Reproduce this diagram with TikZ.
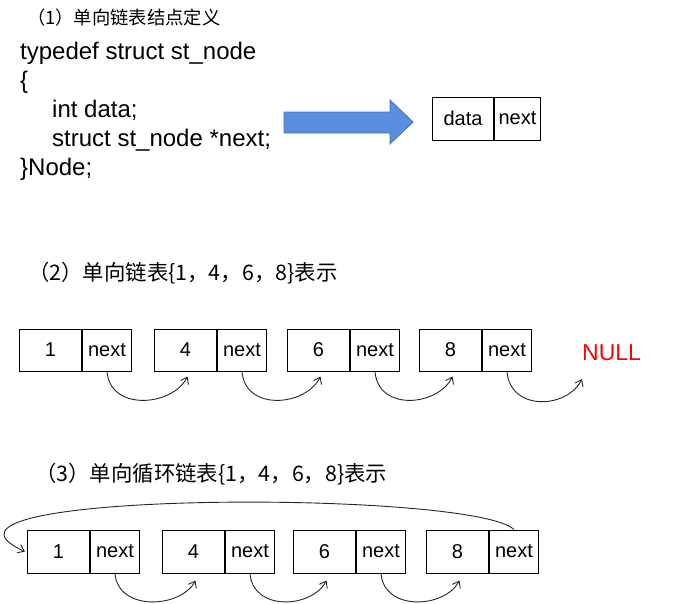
\documentclass[tikz,border=0pt]{standalone}
\usepackage{fontspec}
\setmainfont{Liberation Sans}
\newfontfamily\cjk{Noto Sans CJK SC}
\usetikzlibrary{arrows.meta,calc}
\definecolor{arrowfill}{RGB}{91,142,222}
\definecolor{arrowline}{RGB}{65,113,196}
\begin{document}
\begin{tikzpicture}[x=1pt,y=-1pt,
  cell/.style={draw=black, line width=1pt, minimum height=42pt, inner sep=0pt,
    font=\fontsize{20}{24}\selectfont, anchor=west},
  datacell/.style={cell, minimum width=62pt},
  nextcell/.style={cell, minimum width=49pt},
  link/.style={draw=black!85, line width=0.9pt, -{Straight Barb[length=6pt,width=9pt]}},
  titletext/.style={anchor=base west, inner sep=0pt, font=\cjk\fontsize{21.4}{25}\selectfont},
  codetext/.style={anchor=base west, inner sep=0pt, font=\fontsize{24}{29}\selectfont}
]
\useasboundingbox (0,0) rectangle (679,603);

% (1)
\node[titletext, font=\cjk\fontsize{18.3}{22}\selectfont] (t1) at (27,24) {（1）单向链表结点定义};
\node[codetext] (c1) at (20,59) {typedef struct st\_node};
\node[codetext] (c2) at (20,88) {\{};
\node[codetext] (c3) at (52,117) {int data;};
\node[codetext] (c4) at (52,146) {struct st\_node *next;};
\node[codetext] (c5) at (20,175) {\}Node;};

\draw[fill=arrowfill, draw=arrowline, line width=0.8pt]
  (284,112) -- (390,112) -- (390,100) -- (413,122) -- (390,144) -- (390,133) -- (284,133) -- cycle;

\node[cell, minimum width=61pt, minimum height=43pt] (td) at (432,118.5) {data};
\node[cell, minimum width=46pt, minimum height=43pt] (tn) at (td.east) {next};

% (2)
\node[titletext] (t2) at (28,280) {（2）单向链表\{1，4，6，8\}表示};
\node[datacell] (a1) at (19,350) {1};
\node[nextcell] (an1) at (a1.east) {next};
\node[datacell] (a2) at (154,350) {4};
\node[nextcell] (an2) at (a2.east) {next};
\node[datacell] (a3) at (287,350) {6};
\node[nextcell] (an3) at (a3.east) {next};
\node[datacell] (a4) at (419,350) {8};
\node[nextcell] (an4) at (a4.east) {next};
\node[anchor=base west, inner sep=0pt, text=red, font=\fontsize{23}{26}\selectfont] (null) at (582,360) {NULL};
\coordinate (nulltip) at (582,379);

\draw[link] (an1.south) .. controls +(3,40) and +(-15,30) .. ($(a2.south)+(2,5)$);
\draw[link] (an2.south) .. controls +(3,40) and +(-15,30) .. ($(a3.south)+(2,5)$);
\draw[link] (an3.south) .. controls +(3,40) and +(-15,30) .. ($(a4.south)+(2,5)$);
\draw[link] (an4.south) .. controls +(3,40) and +(-15,30) .. (nulltip);

% (3)
\node[titletext] (t3) at (35,481) {（3）单向循环链表\{1，4，6，8\}表示};
\node[datacell, minimum height=43pt] (b1) at (27,551.5) {1};
\node[nextcell, minimum height=43pt] (bn1) at (b1.east) {next};
\node[datacell, minimum height=43pt] (b2) at (162,551.5) {4};
\node[nextcell, minimum height=43pt] (bn2) at (b2.east) {next};
\node[datacell, minimum height=43pt] (b3) at (293,551.5) {6};
\node[nextcell, minimum height=43pt] (bn3) at (b3.east) {next};
\node[datacell, minimum height=43pt] (b4) at (426,551.5) {8};
\node[nextcell, minimum height=43pt] (bn4) at (b4.east) {next};

\draw[link] (bn1.south) .. controls +(3,38) and +(-15,28) .. ($(b2.south)+(2,7)$);
\draw[link] (bn2.south) .. controls +(3,38) and +(-15,28) .. ($(b3.south)+(2,7)$);
\draw[link] (bn3.south) .. controls +(3,38) and +(-15,28) .. ($(b4.south)+(2,7)$);
\draw[link] (bn4.north) .. controls +(-42,-40) and +(-135,-61) .. ($(b1.west)+(-2,0)$);
\end{tikzpicture}
\end{document}
